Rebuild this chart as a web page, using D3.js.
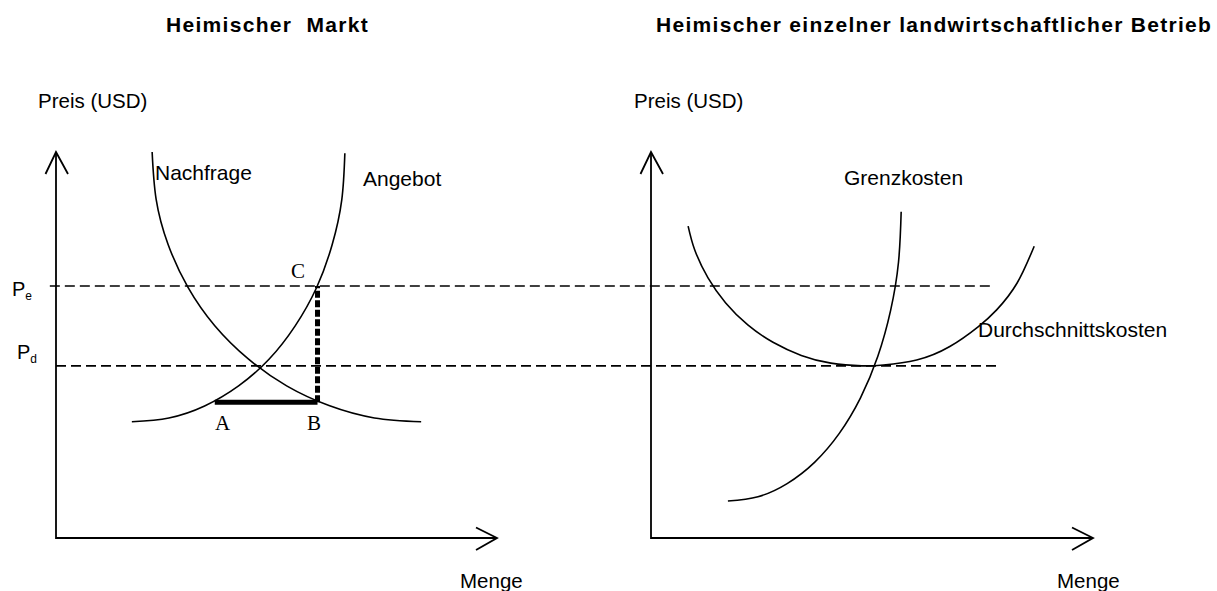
<!DOCTYPE html>
<html>
<head>
<meta charset="utf-8">
<script src="https://cdn.jsdelivr.net/npm/d3@7"></script>
<style>
  body { margin: 0; background: #fff; }
  text { font-family: "Liberation Sans", Arial, sans-serif; fill: #000; }
  .serif { font-family: "Liberation Serif", "Times New Roman", serif; }
</style>
</head>
<body>
<div id="chart"></div>
<script>
// price levels (0-100 price units)
const priceWorld = 65.3;    // P_e
const priceDomestic = 44.6; // P_d

// left panel: domestic market, [quantity, price]
const supplyPts = [
  [17.2, 30.1], [25.6, 31.1], [33.7, 34.2], [41.4, 39.4], [48.3, 46.3],
  [54.2, 54.9], [59.1, 64.9], [62.6, 75.9], [64.8, 87.6], [65.5, 99.7]
];
const demandPts = [
  [21.8, 100], [22.7, 87.8], [25.4, 76.1], [29.9, 65.0], [36.0, 55.0],
  [43.6, 46.4], [52.3, 39.4], [61.9, 34.3], [72.2, 31.1], [82.8, 30.1]
];
// A-B gap and B-C gap
const gapA = [36.0, 35.2];
const gapB = [59.3, 35.2];
const gapC = [59.3, 65.3];

// right panel: single farm
const marginalCostPts = [
  [17.4, 9.6], [24.2, 10.7], [30.8, 14.1], [37.0, 19.6], [42.6, 27.1],
  [47.4, 36.3], [51.3, 47.0], [54.2, 58.9], [56.0, 71.5], [56.6, 84.5]
];
const averageCostPts = [
  [8.4, 80.8], [9.9, 74.6], [12.9, 67.4], [16.9, 60.9], [21.9, 55.2],
  [27.6, 50.7], [34.0, 47.3], [40.7, 45.3], [47.7, 44.6], [52.6, 44.8],
  [60.1, 46.1], [67.6, 49.6], [74.0, 54.7], [78.2, 59.1], [82.8, 66.0],
  [86.7, 75.6]
];

const titles = ["Heimischer  Markt", "Heimischer einzelner landwirtschaftlicher Betrieb"];
const yLabel = "Preis (USD)";
const xLabel = "Menge";
const curveLabels = ["Nachfrage", "Angebot", "Grenzkosten", "Durchschnittskosten"];
const pointLabels = ["A", "B", "C"];

const width = 1217, height = 591;

const svg = d3.select("#chart").append("svg")
  .attr("width", width)
  .attr("height", height);

svg.append("rect").attr("width", width).attr("height", height).attr("fill", "#fff");

const yScale = d3.scaleLinear().domain([0, 100]).range([538, 152]);
const xLeft = d3.scaleLinear().domain([0, 100]).range([56, 497]);
const xRight = d3.scaleLinear().domain([0, 100]).range([651, 1093]);

function drawAxes(x) {
  const x0 = x(0), y0 = yScale(0), yTop = yScale(100), xEnd = x(100);
  const g = svg.append("g").attr("stroke", "#000").attr("fill", "none").attr("stroke-width", 1.8);
  g.append("path").attr("d", `M${x0},${yTop}L${x0},${y0}L${xEnd},${y0}`);
  // open arrow heads
  g.append("path").attr("d", `M${x0 - 10.5},${yTop + 22}L${x0},${yTop}L${x0 + 12},${yTop + 22}`);
  g.append("path").attr("d", `M${xEnd - 21},${y0 - 10.5}L${xEnd},${y0}L${xEnd - 21},${y0 + 12}`);
}

drawAxes(xLeft);
drawAxes(xRight);

// dashed price lines spanning both panels
const dash = svg.append("g").attr("stroke", "#000").attr("stroke-width", 1.6)
  .attr("stroke-dasharray", "10,5");
dash.append("line")
  .attr("x1", xLeft(-1.4)).attr("x2", xRight(77.1))
  .attr("y1", yScale(priceWorld)).attr("y2", yScale(priceWorld));
dash.append("line")
  .attr("x1", xLeft(0)).attr("x2", xRight(78.3))
  .attr("y1", yScale(priceDomestic)).attr("y2", yScale(priceDomestic));

function drawCurve(pts, x) {
  const line = d3.line()
    .x(d => x(d[0]))
    .y(d => yScale(d[1]))
    .curve(d3.curveNatural);
  svg.append("path")
    .datum(pts)
    .attr("d", line)
    .attr("fill", "none")
    .attr("stroke", "#000")
    .attr("stroke-width", 1.6);
}

drawCurve(supplyPts, xLeft);
drawCurve(demandPts, xLeft);
drawCurve(marginalCostPts, xRight);
drawCurve(averageCostPts, xRight);

// thick A-B segment
svg.append("line")
  .attr("x1", xLeft(gapA[0])).attr("y1", yScale(gapA[1]))
  .attr("x2", xLeft(gapB[0])).attr("y2", yScale(gapB[1]))
  .attr("stroke", "#000").attr("stroke-width", 5);

// thick dashed B-C segment
svg.append("line")
  .attr("x1", xLeft(gapB[0])).attr("y1", yScale(gapB[1]))
  .attr("x2", xLeft(gapC[0])).attr("y2", yScale(gapC[1]))
  .attr("stroke", "#000").attr("stroke-width", 5)
  .attr("stroke-dasharray", "7,2.5");

// titles
svg.append("text").attr("x", 166).attr("y", 32).text(titles[0])
  .style("font-size", "21px").style("font-weight", "bold").style("letter-spacing", "1.3px")
  .style("white-space", "pre");
svg.append("text").attr("x", 656).attr("y", 32).text(titles[1])
  .style("font-size", "21px").style("font-weight", "bold").style("letter-spacing", "1.3px");

// axis labels
[[38, 108], [634, 108]].forEach(p => {
  svg.append("text").attr("x", p[0]).attr("y", p[1]).text(yLabel).style("font-size", "20.5px");
});
[[460, 588], [1057, 588]].forEach(p => {
  svg.append("text").attr("x", p[0]).attr("y", p[1]).text(xLabel).style("font-size", "20.5px");
});

// curve labels
const labelPos = [[155, 180], [363, 186], [844, 185], [978, 337]];
curveLabels.forEach((t, i) => {
  svg.append("text").attr("x", labelPos[i][0]).attr("y", labelPos[i][1]).text(t)
    .style("font-size", "21px");
});

// P_e and P_d
function priceLabel(x, y, sub) {
  const t = svg.append("text").attr("x", x).attr("y", y).style("font-size", "20px");
  t.append("tspan").text("P");
  t.append("tspan").attr("dy", 4).style("font-size", "12px").text(sub);
}
priceLabel(12, yScale(priceWorld) + 10, "e");
priceLabel(17, yScale(priceDomestic) - 7, "d");

// A, B, C
const pointPos = [[215, 430], [307, 430], [291, 278]];
pointLabels.forEach((t, i) => {
  svg.append("text").attr("class", "serif")
    .attr("x", pointPos[i][0]).attr("y", pointPos[i][1]).text(t)
    .style("font-size", "21px");
});
</script>
</body>
</html>
